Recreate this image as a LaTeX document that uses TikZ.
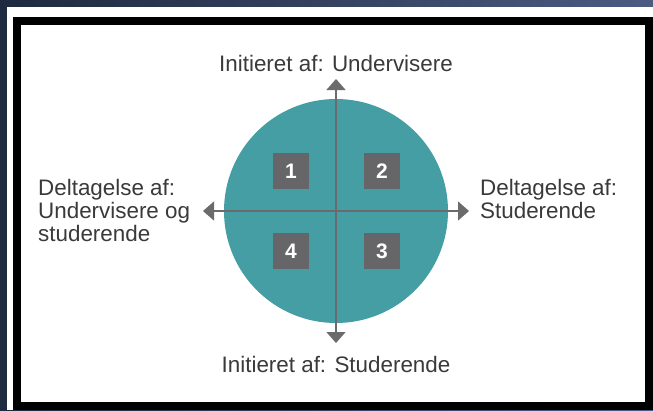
\documentclass[tikz,border=0pt]{standalone}
\usepackage{fontspec}
\setmainfont{Liberation Sans}
\usepackage{tikz}
\usetikzlibrary{arrows.meta, positioning}
\definecolor{qnavy}{HTML}{1E2A3F}
\definecolor{qnavylight}{HTML}{4B5B82}
\definecolor{qteal}{HTML}{459EA4}
\definecolor{qgray}{HTML}{6B6B6D}
\definecolor{qbox}{HTML}{666668}
\definecolor{qtext}{HTML}{3A3A3A}

\begin{document}
\begin{tikzpicture}[x=1pt, y=-1pt,
  axis/.style={qgray, line width=1.5pt, {Triangle[width=19pt,length=11pt]}-{Triangle[width=19pt,length=11pt]}},
  quadbox/.style={fill=qbox, text=white, minimum size=36pt, inner sep=0pt, font=\fontsize{21}{21}\selectfont\bfseries},
  lbl/.style={text=qtext, inner sep=0pt, font=\fontsize{22.4}{23}\selectfont}]
  \useasboundingbox (0,0) rectangle (653,410);

  % Background and frame
  \shade[left color=qnavy, right color=qnavylight] (0,0) rectangle (653,410);
  \fill[white] (7,7) rectangle (653,410);
  \fill[black] (13,17) rectangle (653,410);
  \fill[white] (21,25) rectangle (645,402);

  % Circle
  \node[circle, fill=qteal, minimum size=224pt, inner sep=0pt] (c) at (336,211) {};

  % Axes
  \coordinate (top) at (336,79);
  \coordinate (bot) at (336,343);
  \coordinate (lft) at (203,211);
  \coordinate (rgt) at (469,211);
  \draw[axis] (bot) -- (top);
  \draw[axis] (lft) -- (rgt);

  % Quadrants
  \foreach \n/\x/\y in {1/291/171, 2/382/171, 3/382/251, 4/291/251} {
    \node[quadbox] (q\n) at (\x,\y) {\n};
  }

  % Labels
  \node[lbl, anchor=base] (ltop) at (336,71) {Initieret af: Undervisere};
  \node[lbl, anchor=base] (lbot) at (336,372) {Initieret af: Studerende};
  \node[lbl, anchor=north west, align=left] (llft) at (38,179) {Deltagelse af:\\Undervisere og\\studerende};
  \node[lbl, anchor=north west, align=left] (lrgt) at (480,179) {Deltagelse af:\\Studerende};
\end{tikzpicture}
\end{document}
